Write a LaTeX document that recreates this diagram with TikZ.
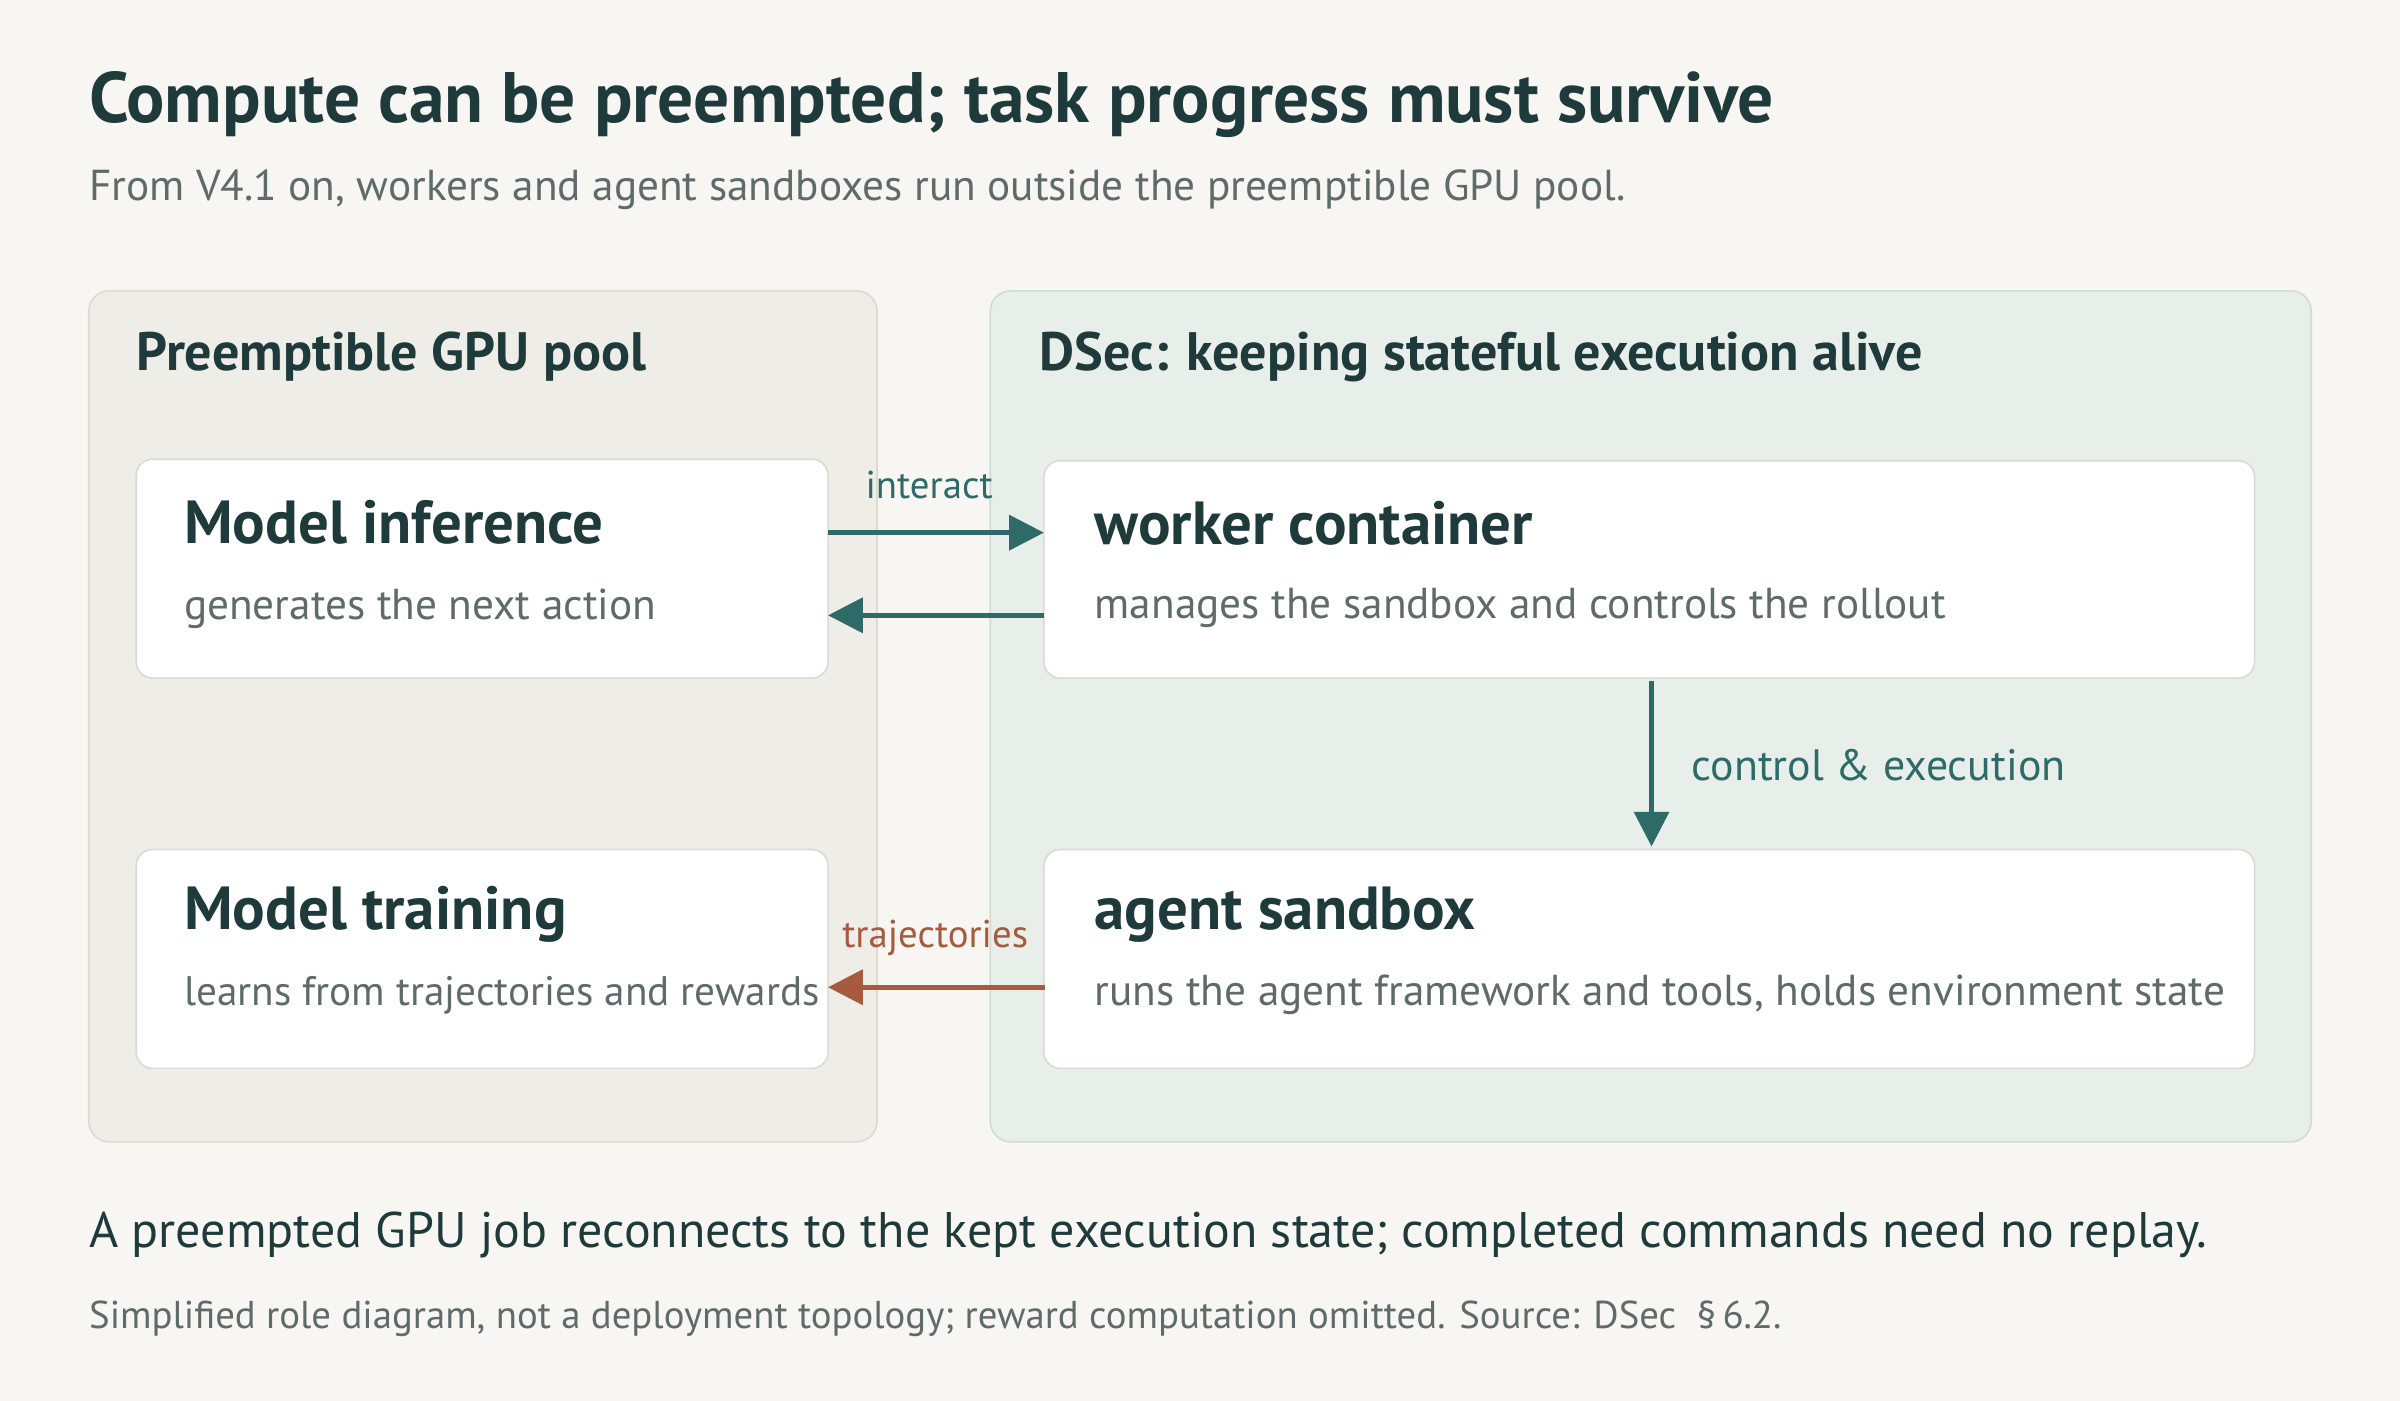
\documentclass[tikz,border=0pt]{standalone}
\usepackage{fontspec}
\setmainfont{PT Sans}
\usetikzlibrary{arrows.meta}
\definecolor{bg}{HTML}{F7F6F2}
\definecolor{lp}{HTML}{EFEDE8}
\definecolor{lpb}{HTML}{DDDAD3}
\definecolor{rp}{HTML}{E8EEEA}
\definecolor{rpb}{HTML}{CFDDD6}
\definecolor{ink}{HTML}{1F3A3A}
\definecolor{teal}{HTML}{2E6B68}
\definecolor{rust}{HTML}{A65A3F}
\definecolor{grey}{HTML}{5F6B6A}
\definecolor{boxb}{HTML}{DCDAD4}
\begin{document}
\begin{tikzpicture}[x=0.75pt,y=-0.75pt,
  txt/.style={anchor=base west,inner sep=0pt},
  card/.style={draw=boxb,fill=white,rounded corners=8pt,line width=0.8pt},
  btitle/.style={txt,text=ink,font=\fontsize{29.8}{33}\selectfont\bfseries},
  bsub/.style={txt,text=grey,font=\fontsize{21.2}{25}\selectfont},
  ar/.style={line width=2.2pt,-{Triangle[length=17pt,width=17pt]}},
  lab/.style={inner sep=0pt,font=\fontsize{19}{22}\selectfont}]
\fill[bg] (0,0) rectangle (1568,915);
\useasboundingbox (0,0) rectangle (1568,915);
\node[txt,text=ink,font=\fontsize{35}{39}\selectfont\bfseries] (title) at (58,80) {Compute can be preempted; task progress must survive};
\node[txt,text=grey,font=\fontsize{21.2}{25}\selectfont] (sub) at (58,131) {From V4.1 on, workers and agent sandboxes run outside the preemptible GPU pool.};
\draw[fill=lp,draw=lpb,rounded corners=10pt,line width=0.8pt] (58,190) rectangle (573,746);
\draw[fill=rp,draw=rpb,rounded corners=10pt,line width=0.8pt] (647,190) rectangle (1510,746);
\node[txt,text=ink,font=\fontsize{26.5}{30}\selectfont\bfseries] (lh) at (89,242) {Preemptible GPU pool};
\node[txt,text=ink,font=\fontsize{26.5}{30}\selectfont\bfseries] (rh) at (679,242) {DSec: keeping stateful execution alive};
\draw[card] (89,300) rectangle (541,443);
\draw[card] (682,301) rectangle (1473,443);
\draw[card] (89,555) rectangle (541,698);
\draw[card] (682,555) rectangle (1473,698);
\node[btitle] (mit) at (120,355) {Model inference};
\node[bsub] (mis) at (120,405) {generates the next action};
\node[btitle] (wct) at (715,356) {worker container};
\node[bsub] (wcs) at (715,404) {manages the sandbox and controls the rollout};
\node[btitle] (mtt) at (120,607) {Model training};
\node[bsub,font=\fontsize{20.2}{24}\selectfont] (mts) at (120,657) {learns from trajectories and rewards};
\node[btitle] (ast) at (715,607) {agent sandbox};
\node[bsub] (ass) at (715,657) {runs the agent framework and tools, holds environment state};
\draw[ar,teal] (541,348) -- (682,348);
\draw[ar,teal] (682,402) -- (541,402);
\draw[ar,teal] (1079,445) -- (1079,553);
\draw[ar,rust] (683,645) -- (541,645);
\node[lab,text=teal] (li) at (607,317) {interact};
\node[lab,text=teal,anchor=west,font=\fontsize{21.5}{25}\selectfont] (lc) at (1105,500) {control \& execution};
\node[lab,text=rust] (lt) at (611,613) {trajectories};
\node[txt,text=ink,font=\fontsize{24.5}{29}\selectfont] (f1) at (58,815) {A preempted GPU job reconnects to the kept execution state; completed commands need no replay.};
\node[txt,text=grey,font=\fontsize{19}{23}\selectfont] (f2) at (58,868) {Simplified role diagram, not a deployment topology; reward computation omitted. Source: DSec \ \S\,6.2.};
\end{tikzpicture}
\end{document}
